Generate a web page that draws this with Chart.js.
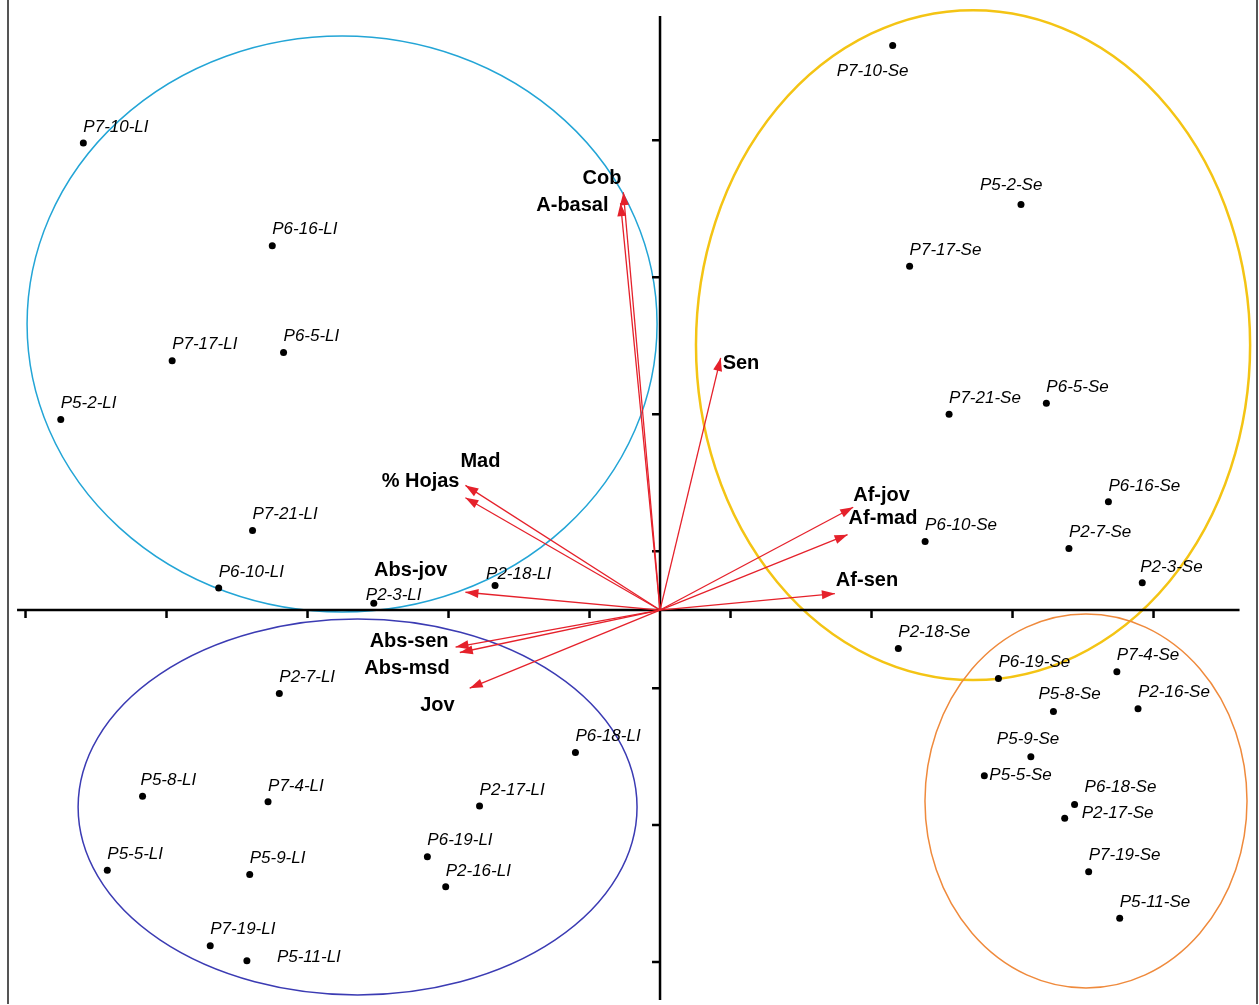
<!DOCTYPE html>
<html>
<head>
<meta charset="utf-8">
<script src="https://cdn.jsdelivr.net/npm/chart.js@4.4.1/dist/chart.umd.min.js"></script>
<style>
  html, body { margin: 0; padding: 0; background: #fff; }
  canvas { display: block; }
</style>
</head>
<body>
<canvas id="biplot" width="1259" height="1005"></canvas>
<script>
// Parcelas en época de lluvias (LI)
var liNames = ['P7-10-LI', 'P6-16-LI', 'P7-17-LI', 'P6-5-LI', 'P5-2-LI', 'P7-21-LI', 'P6-10-LI', 'P2-3-LI', 'P2-18-LI',
  'P2-7-LI', 'P6-18-LI', 'P5-8-LI', 'P7-4-LI', 'P2-17-LI', 'P6-19-LI', 'P5-5-LI', 'P5-9-LI', 'P2-16-LI', 'P7-19-LI', 'P5-11-LI'];
var liX = [-4.09, -2.75, -3.46, -2.67, -4.25, -2.89, -3.13, -2.03, -1.17,
  -2.70, -0.60, -3.67, -2.78, -1.28, -1.65, -3.92, -2.91, -1.52, -3.19, -2.93];
var liY = [3.41, 2.66, 1.82, 1.88, 1.39, 0.58, 0.16, 0.05, 0.18,
  -0.61, -1.04, -1.36, -1.40, -1.43, -1.80, -1.90, -1.93, -2.02, -2.45, -2.56];

// Parcelas en época seca (Se)
var seNames = ['P7-10-Se', 'P5-2-Se', 'P7-17-Se', 'P6-5-Se', 'P7-21-Se', 'P6-16-Se', 'P6-10-Se', 'P2-7-Se', 'P2-3-Se', 'P2-18-Se',
  'P6-19-Se', 'P7-4-Se', 'P5-8-Se', 'P2-16-Se', 'P5-9-Se', 'P5-5-Se', 'P6-18-Se', 'P2-17-Se', 'P7-19-Se', 'P5-11-Se'];
var seX = [1.65, 2.56, 1.77, 2.74, 2.05, 3.18, 1.88, 2.90, 3.42, 1.69,
  2.40, 3.24, 2.79, 3.39, 2.63, 2.30, 2.94, 2.87, 3.04, 3.26];
var seY = [4.12, 2.96, 2.51, 1.51, 1.43, 0.79, 0.50, 0.45, 0.20, -0.28,
  -0.50, -0.45, -0.74, -0.72, -1.07, -1.21, -1.42, -1.52, -1.91, -2.25];

// Variables (flechas desde el origen)
var varNames = ['Cob', 'A-basal', 'Sen', 'Mad', '% Hojas', 'Abs-jov', 'Abs-sen', 'Abs-msd', 'Jov', 'Af-jov', 'Af-mad', 'Af-sen'];
var varX = [-0.26, -0.28, 0.43, -1.38, -1.38, -1.38, -1.45, -1.42, -1.35, 1.37, 1.33, 1.24];
var varY = [3.05, 2.97, 1.84, 0.91, 0.82, 0.13, -0.27, -0.31, -0.57, 0.75, 0.55, 0.12];

// Marcas de los ejes
var xTicks = [-4.5, -3.5, -2.5, -1.5, -0.5, 0.5, 1.5, 2.5, 3.5];
var yTicks = [-2.57, -1.57, -0.57, 0.43, 1.43, 2.43, 3.43];
var xAxisRange = [-4.56, 4.11];
var yAxisRange = [-2.847, 4.336];

// Elipses de agrupamiento: centro x, centro y, radio x, radio y
var grupos = [
  { cx: -2.255, cy: 2.088, rx: 2.234, ry: 2.102 },
  { cx: -2.145, cy: -1.438, rx: 1.982, ry: 1.372 },
  { cx: 2.22, cy: 1.934, rx: 1.965, ry: 2.445 },
  { cx: 3.021, cy: -1.394, rx: 1.142, ry: 1.365 }
];
var coloresGrupo = ['#23a5d6', '#3b3bb3', '#f4c414', '#ef8a3c'];
var grosorGrupo = [1.5, 1.5, 2.5, 1.5];

// desplazamiento de etiquetas (px), por defecto arriba a la derecha del punto
var desplazaEtiqueta = {
  'P7-10-Se': [-56, 26], 'P5-2-Se': [-41, -19], 'P5-8-Se': [-15, -17], 'P5-9-Se': [-34, -17],
  'P5-5-Se': [5, -1], 'P6-18-Se': [10, -17], 'P2-17-Se': [17, -5], 'P2-3-Se': [-2, -15],
  'P2-3-LI': [-8, -8], 'P2-18-LI': [-9, -11], 'P5-11-LI': [30, -3], 'P5-8-LI': [-2, -16]
};
// posición de etiquetas de variables: dx, dy, alineación
var etiquetaVar = {
  'Cob': [-2, -14, 'right'], 'A-basal': [-12, 2, 'right'], 'Sen': [2, 6, 'left'],
  'Mad': [-5, -24, 'left'], '% Hojas': [-6, -16, 'right'], 'Abs-jov': [-18, -22, 'right'],
  'Abs-sen': [-7, -6, 'right'], 'Abs-msd': [-10, 16, 'right'], 'Jov': [-15, 17, 'right'],
  'Af-jov': [0, -12, 'left'], 'Af-mad': [1, -16, 'left'], 'Af-sen': [1, -13, 'left']
};

var ROJO = '#e5212b';

function puntos(xs, ys) {
  return xs.map(function (x, i) { return { x: x, y: ys[i] }; });
}

var datasets = [
  { label: 'LI', data: puntos(liX, liY), pointRadius: 3.5, backgroundColor: '#000', borderWidth: 0 },
  { label: 'Se', data: puntos(seX, seY), pointRadius: 3.5, backgroundColor: '#000', borderWidth: 0 }
];
varNames.forEach(function (n, i) {
  datasets.push({
    label: n,
    data: [{ x: 0, y: 0 }, { x: varX[i], y: varY[i] }],
    showLine: true,
    borderColor: ROJO,
    borderWidth: 1.3,
    pointRadius: 0,
    order: 1
  });
});

var decorado = {
  id: 'decorado',
  beforeDatasetsDraw: function (chart) {
    var ctx = chart.ctx, sx = chart.scales.x, sy = chart.scales.y;
    ctx.save();
    // marco
    ctx.strokeStyle = '#555';
    ctx.lineWidth = 2;
    ctx.beginPath();
    ctx.moveTo(8, 0); ctx.lineTo(8, 1004);
    ctx.moveTo(1257, 0); ctx.lineTo(1257, 1004);
    ctx.stroke();

    // elipses
    grupos.forEach(function (g, i) {
      var cx = sx.getPixelForValue(g.cx), cy = sy.getPixelForValue(g.cy);
      var rx = Math.abs(sx.getPixelForValue(g.cx + g.rx) - cx);
      var ry = Math.abs(sy.getPixelForValue(g.cy + g.ry) - cy);
      ctx.strokeStyle = coloresGrupo[i];
      ctx.lineWidth = grosorGrupo[i];
      ctx.beginPath();
      ctx.ellipse(cx, cy, rx, ry, 0, 0, Math.PI * 2);
      ctx.stroke();
    });

    // ejes cruzados en el origen
    var x0 = sx.getPixelForValue(0), y0 = sy.getPixelForValue(0);
    ctx.strokeStyle = '#000';
    ctx.lineWidth = 2.5;
    ctx.beginPath();
    ctx.moveTo(sx.getPixelForValue(xAxisRange[0]), y0);
    ctx.lineTo(sx.getPixelForValue(xAxisRange[1]), y0);
    ctx.moveTo(x0, sy.getPixelForValue(yAxisRange[0]));
    ctx.lineTo(x0, sy.getPixelForValue(yAxisRange[1]));
    xTicks.forEach(function (t) {
      var px = sx.getPixelForValue(t);
      ctx.moveTo(px, y0); ctx.lineTo(px, y0 + 8);
    });
    yTicks.forEach(function (t) {
      var py = sy.getPixelForValue(t);
      ctx.moveTo(x0, py); ctx.lineTo(x0 - 8, py);
    });
    ctx.stroke();
    ctx.restore();
  },
  afterDatasetsDraw: function (chart) {
    var ctx = chart.ctx;
    ctx.save();
    // puntas de flecha
    for (var i = 2; i < chart.data.datasets.length; i++) {
      var m = chart.getDatasetMeta(i).data;
      var a = m[0], b = m[1];
      var ang = Math.atan2(b.y - a.y, b.x - a.x);
      var L = 13, W = 4.5;
      ctx.fillStyle = ROJO;
      ctx.beginPath();
      ctx.moveTo(b.x, b.y);
      ctx.lineTo(b.x - L * Math.cos(ang) + W * Math.sin(ang), b.y - L * Math.sin(ang) - W * Math.cos(ang));
      ctx.lineTo(b.x - L * Math.cos(ang) - W * Math.sin(ang), b.y - L * Math.sin(ang) + W * Math.cos(ang));
      ctx.closePath();
      ctx.fill();

      var nombre = chart.data.datasets[i].label;
      var pos = etiquetaVar[nombre];
      ctx.fillStyle = '#000';
      ctx.font = 'bold 20px "Liberation Sans", Arial, sans-serif';
      ctx.textAlign = pos[2];
      ctx.textBaseline = 'middle';
      ctx.fillText(nombre, b.x + pos[0], b.y + pos[1]);
    }

    // etiquetas de parcelas
    ctx.font = 'italic 17px "Liberation Sans", Arial, sans-serif';
    ctx.textAlign = 'left';
    ctx.textBaseline = 'middle';
    ctx.fillStyle = '#000';
    [[0, liNames], [1, seNames]].forEach(function (par) {
      var els = chart.getDatasetMeta(par[0]).data;
      par[1].forEach(function (n, j) {
        var d = desplazaEtiqueta[n] || [0, -16];
        ctx.fillText(n, els[j].x + d[0], els[j].y + d[1]);
      });
    });
    ctx.restore();
  }
};

new Chart(document.getElementById('biplot'), {
  type: 'scatter',
  data: { datasets: datasets },
  options: {
    responsive: false,
    animation: false,
    devicePixelRatio: 1,
    layout: { padding: 0, autoPadding: false },
    plugins: { legend: { display: false }, tooltip: { enabled: false } },
    scales: {
      x: { type: 'linear', display: false, min: -4.681, max: 4.248 },
      y: { type: 'linear', display: false, min: -2.883, max: 4.453 }
    }
  },
  plugins: [decorado]
});
</script>
</body>
</html>
